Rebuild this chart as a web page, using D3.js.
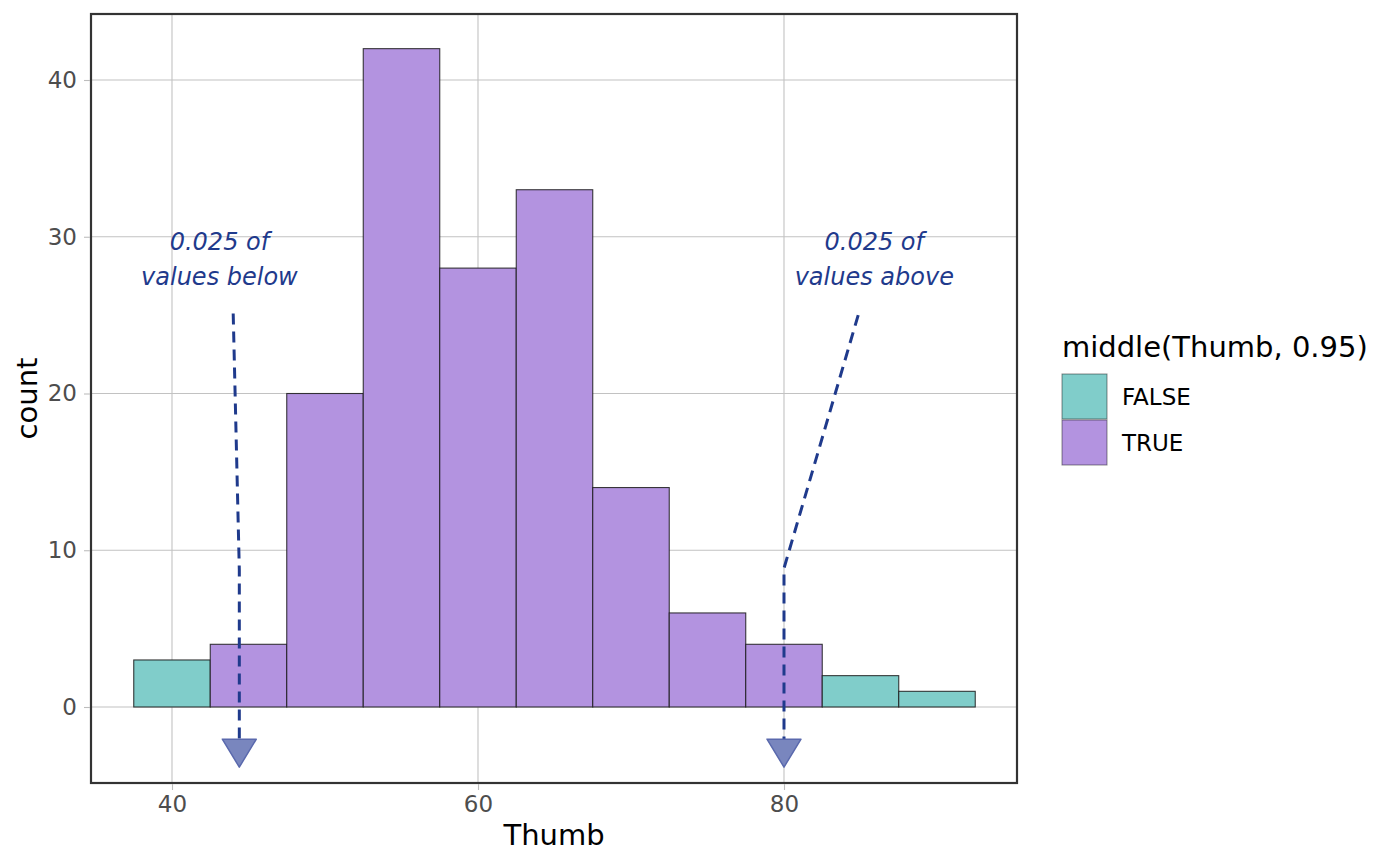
<!DOCTYPE html>
<html>
<head>
<meta charset="utf-8">
<script src="https://cdn.jsdelivr.net/npm/d3@7"></script>
<style>
  body { margin: 0; background: #fff; }
  svg text { font-family: "DejaVu Sans", sans-serif; }
</style>
</head>
<body>
<svg id="chart" width="1400" height="866"></svg>
<script>
// histogram bins (lower edge, width 5)
var binStart = [37.5, 42.5, 47.5, 52.5, 57.5, 62.5, 67.5, 72.5, 77.5, 82.5, 87.5];
var binEnd = [42.5, 47.5, 52.5, 57.5, 62.5, 67.5, 72.5, 77.5, 82.5, 87.5, 92.5];
var counts = [3, 4, 20, 42, 28, 33, 14, 6, 4, 2, 1];
var inMiddle = [false, true, true, true, true, true, true, true, true, false, false];

var xTicks = [40, 60, 80];
var yTicks = [0, 10, 20, 30, 40];
var groups = ["FALSE", "TRUE"];

// annotation arrows (x, count)
var leftArrow = [[44.0, 25.1], [44.4, 8.75], [44.4, -2.05]];
var rightArrow = [[84.85, 25.0], [80.0, 8.85], [80.0, -2.05]];
var labelLeft = { x: 43.1, lines: ["0.025 of", "values below"] };
var labelRight = { x: 85.9, lines: ["0.025 of", "values above"] };

var svg = d3.select("#chart");

var panel = { left: 91, right: 1017, top: 14, bottom: 783 };

var x = d3.scaleLinear().domain([34.706, 95.229]).range([panel.left, panel.right]);
var y = d3.scaleLinear().domain([-4.849, 44.211]).range([panel.bottom, panel.top]);
var fill = d3.scaleOrdinal().domain(groups).range(["#80cdca", "#b393e0"]);

var bins = counts.map(function (c, i) {
    return { x0: binStart[i], x1: binEnd[i], count: c, group: inMiddle[i] ? "TRUE" : "FALSE" };
});

// grid lines
svg.append("g").selectAll("line.gx")
    .data(xTicks).enter().append("line")
    .attr("x1", function (d) { return x(d); })
    .attr("x2", function (d) { return x(d); })
    .attr("y1", panel.top).attr("y2", panel.bottom)
    .attr("stroke", "#c2c2c2").attr("stroke-width", 1.1);

svg.append("g").selectAll("line.gy")
    .data(yTicks).enter().append("line")
    .attr("y1", function (d) { return y(d); })
    .attr("y2", function (d) { return y(d); })
    .attr("x1", panel.left).attr("x2", panel.right)
    .attr("stroke", "#c2c2c2").attr("stroke-width", 1.1);

// bars
svg.append("g").selectAll("rect")
    .data(bins).enter().append("rect")
    .attr("x", function (d) { return x(d.x0); })
    .attr("width", function (d) { return x(d.x1) - x(d.x0); })
    .attr("y", function (d) { return y(d.count); })
    .attr("height", function (d) { return y(0) - y(d.count); })
    .attr("fill", function (d) { return fill(d.group); })
    .attr("stroke", "#1a1a1a")
    .attr("stroke-opacity", 0.85)
    .attr("stroke-width", 1.1);

// annotation arrows
var line = d3.line()
    .x(function (d) { return x(d[0]); })
    .y(function (d) { return y(d[1]); });

var navy = "#1f3a8c";

[leftArrow, rightArrow].forEach(function (pts) {
    svg.append("path")
        .attr("d", line(pts))
        .attr("fill", "none")
        .attr("stroke", navy)
        .attr("stroke-width", 3)
        .attr("stroke-dasharray", "11,7")
        .attr("stroke-linejoin", "round");

    var end = pts[pts.length - 1];
    svg.append("path")
        .attr("transform", "translate(" + x(end[0]) + "," + y(end[1]) + ")")
        .attr("d", "M-17,0L17,0L0,28Z")
        .attr("fill", "#7986be")
        .attr("stroke", "#5a69ad")
        .attr("stroke-width", 1.5)
        .attr("stroke-linejoin", "round");
});

[labelLeft, labelRight].forEach(function (lab) {
    var t = svg.append("text")
        .attr("x", x(lab.x))
        .attr("y", 250)
        .attr("text-anchor", "middle")
        .attr("font-style", "italic")
        .attr("font-size", "24px")
        .attr("fill", navy);
    lab.lines.forEach(function (s, i) {
        t.append("tspan")
            .attr("x", x(lab.x))
            .attr("dy", i === 0 ? 0 : 34.5)
            .text(s);
    });
});

// panel border
svg.append("rect")
    .attr("x", panel.left).attr("y", panel.top)
    .attr("width", panel.right - panel.left)
    .attr("height", panel.bottom - panel.top)
    .attr("fill", "none")
    .attr("stroke", "#333333")
    .attr("stroke-width", 2.2);

// axes
var xAxis = svg.append("g")
    .attr("transform", "translate(0," + (panel.bottom + 1) + ")")
    .call(d3.axisBottom(x).tickValues(xTicks).tickSize(6).tickPadding(6));
var yAxis = svg.append("g")
    .attr("transform", "translate(" + (panel.left - 1) + ",0)")
    .call(d3.axisLeft(y).tickValues(yTicks).tickSize(6).tickPadding(7));

[xAxis, yAxis].forEach(function (a) {
    a.select(".domain").remove();
    a.selectAll(".tick line").attr("stroke", "#bdbdbd").attr("stroke-width", 1.1);
    a.selectAll(".tick text")
        .attr("fill", "#4d4d4d")
        .attr("font-size", "23px")
        .attr("font-family", "DejaVu Sans, sans-serif");
});

// axis titles
svg.append("text")
    .attr("x", (panel.left + panel.right) / 2)
    .attr("y", 845)
    .attr("text-anchor", "middle")
    .attr("font-size", "29px")
    .attr("fill", "#000")
    .text("Thumb");

svg.append("text")
    .attr("transform", "translate(37," + ((panel.top + panel.bottom) / 2) + ") rotate(-90)")
    .attr("text-anchor", "middle")
    .attr("font-size", "29px")
    .attr("fill", "#000")
    .text("count");

// legend
var legend = svg.append("g").attr("transform", "translate(1062,0)");
legend.append("text")
    .attr("x", 0).attr("y", 357)
    .attr("font-size", "29px")
    .attr("fill", "#000")
    .text("middle(Thumb, 0.95)");

groups.forEach(function (g, i) {
    legend.append("rect")
        .attr("x", 0).attr("y", 374 + i * 46)
        .attr("width", 45).attr("height", 45)
        .attr("fill", fill(g))
        .attr("stroke", "#1a1a1a")
        .attr("stroke-opacity", 0.5)
        .attr("stroke-width", 1);
    legend.append("text")
        .attr("x", 60).attr("y", 405 + i * 46)
        .attr("font-size", "23px")
        .attr("fill", "#000")
        .text(g);
});
</script>
</body>
</html>
